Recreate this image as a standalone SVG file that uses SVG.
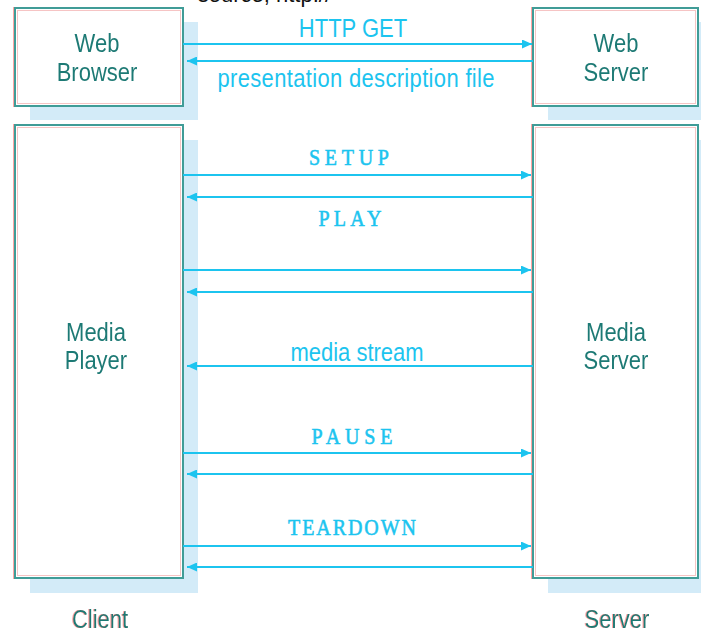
<svg xmlns="http://www.w3.org/2000/svg" width="701" height="633" viewBox="0 0 701 633">
  <defs>
    <marker id="head" markerUnits="userSpaceOnUse" markerWidth="10" markerHeight="9" refX="10" refY="4.5" orient="auto">
      <path d="M0,0 L10,4.5 L0,9 z" fill="#1cc4ef"/>
    </marker>
    <!-- faint red edge on the dark outlines and captions -->
    <filter id="fringe" x="-5%" y="-5%" width="110%" height="110%">
      <feOffset in="SourceAlpha" dx="-1" dy="0" result="off"/>
      <feFlood flood-color="#ff5a5a" flood-opacity="0.55"/>
      <feComposite in2="off" operator="in" result="red"/>
      <feMerge>
        <feMergeNode in="red"/>
        <feMergeNode in="SourceGraphic"/>
      </feMerge>
    </filter>
  </defs>
  <style>
    .shadow { fill: #d3ebf8; }
    .box { fill: #ffffff; stroke: #3f9c97; stroke-width: 2; }
    .inner { fill: none; stroke: #f6c4c4; stroke-width: 1; }
    .cap { font-family: "Liberation Sans", Arial, sans-serif; font-size: 22px; fill: #1f7a75; text-anchor: middle; }
    .msg { font-family: "Liberation Sans", Arial, sans-serif; font-size: 22px; fill: #1cc4ef; text-anchor: middle; }
    .cmd { font-family: "Liberation Serif", "Times New Roman", serif; font-size: 20px; fill: #1cc4ef; stroke: #1cc4ef; stroke-width: 0.5px; text-anchor: middle; }
    .arrow { stroke: #1cc4ef; stroke-width: 2; fill: none; marker-end: url(#head); }
    .top { font-family: "Liberation Sans", Arial, sans-serif; font-size: 22px; fill: #111111; text-anchor: end; }
  </style>

  <!-- clipped caption line at the top edge -->
  <text class="top" x="331" y="2">source, http://</text>

  <!-- shadows -->
  <rect class="shadow" x="30" y="22" width="168" height="98"/>
  <rect class="shadow" x="548" y="22" width="165" height="98"/>
  <rect class="shadow" x="30" y="140" width="168" height="453"/>
  <rect class="shadow" x="548" y="140" width="165" height="453"/>

  <g id="web-browser" filter="url(#fringe)">
    <rect class="box" x="15" y="8" width="168" height="98"/>
    <rect class="inner" x="17.5" y="10.5" width="163" height="93"/>
    <text class="cap" transform="translate(97,52) scale(1,1.2)">Web</text>
    <text class="cap" transform="translate(97,81) scale(1,1.2)">Browser</text>
  </g>

  <g id="web-server" filter="url(#fringe)">
    <rect class="box" x="533" y="8" width="165" height="98"/>
    <rect class="inner" x="535.5" y="10.5" width="160" height="93"/>
    <text class="cap" transform="translate(616,52) scale(1,1.2)">Web</text>
    <text class="cap" transform="translate(616,81) scale(1,1.2)">Server</text>
  </g>

  <g id="media-player" filter="url(#fringe)">
    <rect class="box" x="15" y="125" width="168" height="453"/>
    <rect class="inner" x="17.5" y="127.5" width="163" height="448"/>
    <text class="cap" transform="translate(96,341) scale(1,1.2)">Media</text>
    <text class="cap" transform="translate(96,369) scale(1,1.2)">Player</text>
  </g>

  <g id="media-server" filter="url(#fringe)">
    <rect class="box" x="533" y="125" width="165" height="453"/>
    <rect class="inner" x="535.5" y="127.5" width="160" height="448"/>
    <text class="cap" transform="translate(616,341) scale(1,1.2)">Media</text>
    <text class="cap" transform="translate(616,369) scale(1,1.2)">Server</text>
  </g>

  <g id="client-label" filter="url(#fringe)">
    <text class="cap" transform="translate(100,628) scale(1,1.2)">Client</text>
  </g>
  <g id="server-label" filter="url(#fringe)">
    <text class="cap" transform="translate(617,628) scale(1,1.2)">Server</text>
  </g>

  <g id="connectors">
    <!-- HTTP exchange -->
    <line class="arrow" x1="183" y1="44" x2="532" y2="44"/>
    <line class="arrow" x1="533" y1="61" x2="187" y2="61"/>
    <!-- SETUP -->
    <line class="arrow" x1="183" y1="175" x2="531" y2="175"/>
    <line class="arrow" x1="533" y1="197" x2="187" y2="197"/>
    <!-- PLAY -->
    <line class="arrow" x1="183" y1="270" x2="531" y2="270"/>
    <line class="arrow" x1="533" y1="292" x2="187" y2="292"/>
    <!-- media stream -->
    <line class="arrow" x1="533" y1="366" x2="187" y2="366"/>
    <!-- PAUSE -->
    <line class="arrow" x1="183" y1="453" x2="531" y2="453"/>
    <line class="arrow" x1="533" y1="474" x2="187" y2="474"/>
    <!-- TEARDOWN -->
    <line class="arrow" x1="183" y1="546" x2="531" y2="546"/>
    <line class="arrow" x1="533" y1="567" x2="187" y2="567"/>

    <text class="msg" transform="translate(353,37) scale(1,1.2)">HTTP GET</text>
    <text class="msg" transform="translate(356,87) scale(1,1.2)" textLength="277">presentation description file</text>
    <text class="cmd" transform="translate(349,165) scale(1,1.2)" textLength="80" lengthAdjust="spacing">SETUP</text>
    <text class="cmd" transform="translate(350,226) scale(1,1.2)" textLength="63" lengthAdjust="spacing">PLAY</text>
    <text class="msg" transform="translate(357,361) scale(1,1.2)">media stream</text>
    <text class="cmd" transform="translate(352,444) scale(1,1.2)" textLength="81" lengthAdjust="spacing">PAUSE</text>
    <text class="cmd" transform="translate(352,535) scale(1,1.2)" textLength="128" lengthAdjust="spacing">TEARDOWN</text>
  </g>
</svg>
